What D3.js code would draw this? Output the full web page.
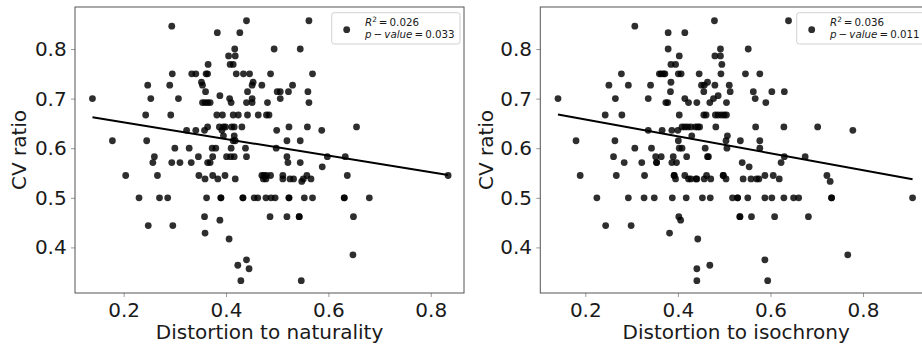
<!DOCTYPE html>
<html>
<head>
<meta charset="utf-8">
<script src="https://cdn.jsdelivr.net/npm/d3@7"></script>
<style>
  html, body { margin: 0; padding: 0; background: #fff; }
  svg { display: block; }
  text { font-family: "DejaVu Sans", sans-serif; }
</style>
</head>
<body>
<svg id="chart" width="922" height="347"></svg>
<script>
// ---- data (each row: CV ratio, then distortion values of the points on that row) ----
const naturalityRows = [
  [0.857, 0.440, 0.562],
  [0.846, 0.294],
  [0.833, 0.383, 0.427],
  [0.800, 0.417, 0.494, 0.545],
  [0.786, 0.405, 0.418],
  [0.769, 0.365, 0.408, 0.414],
  [0.750, 0.295, 0.333, 0.341, 0.361, 0.364, 0.420, 0.434, 0.446, 0.487, 0.569],
  [0.733, 0.352, 0.453],
  [0.727, 0.247, 0.290, 0.354, 0.451, 0.470, 0.530],
  [0.714, 0.360, 0.442, 0.500, 0.506, 0.522, 0.560],
  [0.706, 0.388],
  [0.700, 0.139, 0.253, 0.307, 0.407, 0.451, 0.506],
  [0.692, 0.354, 0.359, 0.364, 0.369, 0.410, 0.440, 0.451, 0.481, 0.562],
  [0.667, 0.243, 0.292, 0.382, 0.393, 0.414, 0.424, 0.442, 0.463, 0.479, 0.484],
  [0.643, 0.364, 0.387, 0.395, 0.399, 0.411, 0.416, 0.431, 0.523, 0.559, 0.655],
  [0.636, 0.323, 0.341, 0.358, 0.392, 0.499, 0.587],
  [0.625, 0.395, 0.416],
  [0.615, 0.178, 0.245, 0.414, 0.418, 0.519, 0.545],
  [0.600, 0.300, 0.328, 0.373, 0.380, 0.410, 0.438, 0.498],
  [0.583, 0.260, 0.346, 0.374, 0.401, 0.409, 0.416, 0.440, 0.519, 0.598, 0.633],
  [0.571, 0.257, 0.294, 0.310, 0.332, 0.364, 0.369, 0.521, 0.545],
  [0.5625, 0.588],
  [0.545, 0.204, 0.266, 0.347, 0.374, 0.398, 0.470, 0.474, 0.479, 0.487, 0.511, 0.558, 0.637, 0.834],
  [0.538, 0.359, 0.384, 0.418, 0.473, 0.478, 0.511, 0.525, 0.532, 0.551, 0.566],
  [0.533, 0.548],
  [0.500, 0.230, 0.270, 0.286, 0.362, 0.390, 0.390, 0.433, 0.433, 0.455, 0.462, 0.478, 0.488, 0.496, 0.523, 0.523, 0.553, 0.569, 0.631, 0.631, 0.680],
  [0.462, 0.358, 0.486, 0.519, 0.543, 0.543, 0.649],
  [0.455, 0.388],
  [0.444, 0.248, 0.296],
  [0.429, 0.359],
  [0.417, 0.406],
  [0.385, 0.648],
  [0.375, 0.440],
  [0.364, 0.423],
  [0.357, 0.445],
  [0.333, 0.429, 0.547]
];

const isochronyRows = [
  [0.857, 0.479, 0.639],
  [0.846, 0.307],
  [0.833, 0.379, 0.415],
  [0.800, 0.379, 0.492, 0.552],
  [0.786, 0.403, 0.480, 0.492],
  [0.769, 0.385, 0.395, 0.495],
  [0.750, 0.278, 0.360, 0.364, 0.369, 0.372, 0.401, 0.407, 0.446, 0.493, 0.546, 0.577],
  [0.733, 0.385, 0.464],
  [0.727, 0.251, 0.293, 0.341, 0.451, 0.457, 0.480, 0.511],
  [0.714, 0.384, 0.456, 0.513, 0.563, 0.603, 0.630],
  [0.706, 0.487],
  [0.700, 0.141, 0.265, 0.336, 0.415, 0.477, 0.567],
  [0.692, 0.374, 0.378, 0.423, 0.441, 0.469, 0.505, 0.590],
  [0.667, 0.243, 0.279, 0.403, 0.456, 0.461, 0.481, 0.487, 0.494, 0.500, 0.505],
  [0.643, 0.409, 0.415, 0.421, 0.428, 0.438, 0.443, 0.447, 0.482, 0.568, 0.629, 0.702],
  [0.636, 0.336, 0.366, 0.387, 0.400, 0.778],
  [0.625, 0.430, 0.507],
  [0.615, 0.180, 0.264, 0.401, 0.504, 0.535, 0.577],
  [0.600, 0.307, 0.343, 0.403, 0.409, 0.459, 0.506, 0.577],
  [0.583, 0.261, 0.352, 0.364, 0.390, 0.419, 0.464, 0.466, 0.630, 0.675],
  [0.571, 0.284, 0.322, 0.354, 0.354, 0.387, 0.397, 0.539, 0.623],
  [0.5625, 0.554],
  [0.545, 0.189, 0.267, 0.328, 0.392, 0.392, 0.415, 0.462, 0.498, 0.498, 0.588, 0.606, 0.722],
  [0.538, 0.395, 0.423, 0.428, 0.439, 0.441, 0.457, 0.471, 0.504, 0.541, 0.558, 0.570, 0.575, 0.619],
  [0.533, 0.729],
  [0.500, 0.225, 0.293, 0.327, 0.349, 0.388, 0.418, 0.453, 0.470, 0.518, 0.529, 0.529, 0.551, 0.588, 0.603, 0.629, 0.650, 0.661, 0.732, 0.732, 0.907],
  [0.462, 0.402, 0.534, 0.534, 0.559, 0.609, 0.682],
  [0.455, 0.406],
  [0.444, 0.244, 0.299],
  [0.429, 0.382],
  [0.417, 0.443],
  [0.385, 0.767],
  [0.375, 0.588],
  [0.364, 0.469],
  [0.357, 0.441],
  [0.333, 0.441, 0.594]
];

// regression fits: [slope, intercept]
const fitNaturality = [-0.1675, 0.6855];
const fitIsochrony = [-0.1705, 0.6921];

const xLabels = ["Distortion to naturality", "Distortion to isochrony"];
const yLabel = "CV ratio";
const r2Values = ["0.026", "0.036"];
const pValues = ["0.033", "0.011"];
const xTicks = [0.2, 0.4, 0.6, 0.8];
const yTicks = [0.4, 0.5, 0.6, 0.7, 0.8];

// ---- drawing ----
(function () {
const svg = d3.select("#chart");
const TS = "\u2009"; // thin space, like mathtext operator spacing

function flatten(rows) {
  const pts = [];
  rows.forEach(r => { for (let i = 1; i < r.length; i++) pts.push({ x: r[i], y: r[0] }); });
  return pts;
}

const panels = [
  { rows: naturalityRows, fit: fitNaturality, xLabel: xLabels[0], r2: r2Values[0], p: pValues[0],
    left: 75, right: 464, xDomain: [0.1049, 0.865], yLabelX: 26, legendX: 331.7, legendW: 128.3 },
  { rows: isochronyRows, fit: fitIsochrony, xLabel: xLabels[1], r2: r2Values[1], p: pValues[1],
    left: 540.3, right: 932, xDomain: [0.1028, 0.949], yLabelX: 492.5, legendX: 796.7, legendW: 128.3 }
];

const plotTop = 7, plotBottom = 293;

panels.forEach(pn => {
  const x = d3.scaleLinear().domain(pn.xDomain).range([pn.left, pn.right]);
  const y = d3.scaleLinear().domain([0.3081, 0.8847]).range([plotBottom, plotTop]);
  const g = svg.append("g");

  // axes
  const xa = g.append("g").attr("transform", `translate(0,${plotBottom})`)
    .call(d3.axisBottom(x).tickValues(xTicks).tickFormat(d3.format(".1f")).tickSize(4).tickPadding(6));
  const ya = g.append("g").attr("transform", `translate(${pn.left},0)`)
    .call(d3.axisLeft(y).tickValues(yTicks).tickFormat(d3.format(".1f")).tickSize(4).tickPadding(4.3));
  [xa, ya].forEach(a => {
    a.select(".domain").remove();
    a.selectAll(".tick line").attr("stroke", "#999").attr("stroke-width", 1);
    a.selectAll(".tick text").attr("fill", "#1a1a1a").style("font-size", "20px")
      .style("font-family", "'DejaVu Sans', sans-serif");
  });

  // points
  const pts = flatten(pn.rows);
  g.append("g").selectAll("circle").data(pts).join("circle")
    .attr("cx", d => x(d.x)).attr("cy", d => y(d.y)).attr("r", 3.4)
    .attr("fill", "#000").attr("fill-opacity", 0.82);

  // regression line
  const xs = d3.extent(pts, d => d.x);
  g.append("line")
    .attr("x1", x(xs[0])).attr("y1", y(pn.fit[1] + pn.fit[0] * xs[0]))
    .attr("x2", x(xs[1])).attr("y2", y(pn.fit[1] + pn.fit[0] * xs[1]))
    .attr("stroke", "#000").attr("stroke-width", 2);

  // frame
  g.append("rect").attr("x", pn.left).attr("y", plotTop)
    .attr("width", pn.right - pn.left).attr("height", plotBottom - plotTop)
    .attr("fill", "none").attr("stroke", "#555").attr("stroke-width", 1);

  // axis labels
  g.append("text").attr("x", (pn.left + pn.right) / 2).attr("y", 339)
    .attr("text-anchor", "middle").style("font-size", "20px").attr("fill", "#1a1a1a")
    .text(pn.xLabel);
  g.append("text").attr("transform", `translate(${pn.yLabelX},${(plotTop + plotBottom) / 2}) rotate(-90)`)
    .attr("text-anchor", "middle").style("font-size", "20px").attr("fill", "#1a1a1a")
    .text(yLabel);

  // legend
  const lg = g.append("g");
  lg.append("rect").attr("x", pn.legendX).attr("y", 12.7).attr("width", pn.legendW).attr("height", 31.3)
    .attr("rx", 2.5).attr("fill", "#fff").attr("fill-opacity", 0.8).attr("stroke", "#d0d0d0").attr("stroke-width", 1);
  lg.append("circle").attr("cx", pn.legendX + 15).attr("cy", 29.7).attr("r", 3.4)
    .attr("fill", "#000").attr("fill-opacity", 0.82);
  const tx = pn.legendX + 33.3;
  const t1 = lg.append("text").attr("x", tx).attr("y", 25.5).style("font-size", "10.3px").attr("fill", "#1a1a1a");
  t1.append("tspan").style("font-style", "italic").text("R");
  t1.append("tspan").attr("dy", -4).style("font-size", "7.3px").text("2");
  t1.append("tspan").attr("dy", 4).text(TS + "=" + TS + pn.r2);
  const t2 = lg.append("text").attr("x", tx).attr("y", 37.5).style("font-size", "10.3px").attr("fill", "#1a1a1a");
  t2.append("tspan").style("font-style", "italic").text("p");
  t2.append("tspan").text(TS + "\u2212" + TS);
  t2.append("tspan").style("font-style", "italic").text("value");
  t2.append("tspan").text(TS + "=" + TS + pn.p);
});
})();
</script>
</body>
</html>
